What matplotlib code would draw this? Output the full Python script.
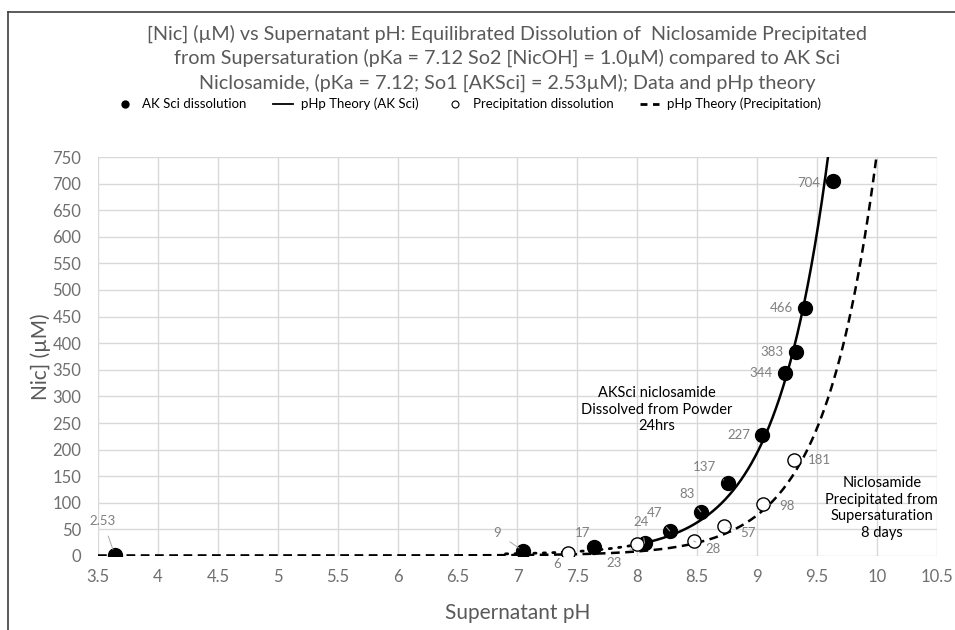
import numpy as np
import matplotlib
matplotlib.use('Agg')
import matplotlib.pyplot as plt
from matplotlib.lines import Line2D

# --- data ---
ak_ph = [3.64, 7.05, 7.64, 8.06, 8.27, 8.53, 8.76, 9.04, 9.23, 9.32, 9.40, 9.63]
ak_nic = [2.53, 9, 17, 24, 47, 83, 137, 227, 344, 383, 466, 704]
ak_labels = ['2.53', '9', '17', '24', '47', '83', '137', '227', '344', '383', '466', '704']

pr_ph = [7.42, 8.00, 8.47, 8.72, 9.05, 9.31]
pr_nic = [6, 23, 28, 57, 98, 181]
pr_labels = ['6', '23', '28', '57', '98', '181']

# pHp theory parameters (from title)
pka = 7.12
so_ak = 2.53
so_pr = 1.0

# label offsets in pixels (dx, dy, leader line?)
ak_off = [(-12, 34, True), (-26, 18, True), (-12, 14, False), (-3, 21, True),
          (-15, 18, True), (-14, 18, True), (-24, 16, True), (-23, 0, False),
          (-24, 0, False), (-24, 0, False), (-24, 0, False), (-24, -2, False)]
pr_off = [(-11, -11, True), (-23, -19, True), (19, -8, True), (24, -7, True),
          (24, -2, True), (25, 0, False)]

plt.rcParams['font.family'] = ['Lato', 'DejaVu Sans']
gray = '#595959'

fig = plt.figure(figsize=(9.55, 6.3), dpi=100)
ax = fig.add_axes([98 / 955, 1 - 556 / 630, (937 - 98) / 955, (556 - 157) / 630])

# theory curves (pHp equation: S = So * (1 + 10^(pH - pKa)))
ph_lo = np.linspace(6.9, 8.1, 200)
ph_hi = np.linspace(8.1, 10.3, 600)
ax.plot(ph_lo, so_ak * (1 + 10 ** (ph_lo - pka)), color='black', lw=2.0,
        dashes=(0.8, 2.6), dash_capstyle='round', zorder=3)
ax.plot(ph_hi, so_ak * (1 + 10 ** (ph_hi - pka)), color='black', lw=1.8, zorder=3)
ph = np.linspace(3.5, 10.3, 800)
ax.plot(ph, so_pr * (1 + 10 ** (ph - pka)), color='black', lw=1.8,
        dashes=(3.5, 2.2), zorder=3)

ax.plot(ak_ph, ak_nic, 'o', ms=10, color='black', zorder=4)
ax.plot(pr_ph, pr_nic, 'o', ms=9.5, mfc='white', mec='black', mew=1.0, zorder=4)

lab_color = '#7f7f7f'
for x, y, t, (dx, dy, lead) in list(zip(ak_ph, ak_nic, ak_labels, ak_off)) + \
        list(zip(pr_ph, pr_nic, pr_labels, pr_off)):
    ap = dict(arrowstyle='-', color='#a6a6a6', lw=0.7, shrinkA=5, shrinkB=4) if lead else None
    ax.annotate(t, (x, y), xytext=(dx, dy), textcoords='offset pixels',
                ha='center', va='center', fontsize=9.5, color=lab_color,
                arrowprops=ap, zorder=5)

ax.text(8.16, 275, 'AKSci niclosamide\nDissolved from Powder\n24hrs',
        ha='center', va='center', fontsize=10.5, color='black', linespacing=1.25)
ax.text(10.04, 90, 'Niclosamide\nPrecipitated from\nSupersaturation\n8 days',
        ha='center', va='center', fontsize=10.5, color='black', linespacing=1.25)

ax.set_xlim(3.5, 10.5)
ax.set_ylim(0, 750)
ax.set_xticks(np.arange(3.5, 10.51, 0.5))
ax.set_xticklabels(['3.5', '4', '4.5', '5', '5.5', '6', '6.5', '7', '7.5', '8',
                    '8.5', '9', '9.5', '10', '10.5'])
ax.set_yticks(np.arange(0, 751, 50))
ax.grid(True, color='#d9d9d9', lw=1)
ax.set_axisbelow(True)
for s in ax.spines.values():
    s.set_visible(False)
ax.tick_params(length=0, labelsize=12, labelcolor='#6f6f6f')
ax.tick_params(axis='y', pad=12)
ax.tick_params(axis='x', pad=9)

ax.set_xlabel('Supernatant pH', fontsize=15, color=gray, labelpad=13)
ax.set_ylabel('Nic] (µM)', fontsize=15, color=gray, labelpad=1)

fig.text(0.531, 1 - 58 / 630,
         '[Nic] (µM) vs Supernatant pH: Equilibrated Dissolution of  Niclosamide Precipitated\n'
         'from Supersaturation (pKa = 7.12 So2 [NicOH] = 1.0µM) compared to AK Sci\n'
         'Niclosamide, (pKa = 7.12; So1 [AKSci] = 2.53µM); Data and pHp theory',
         ha='center', va='center', fontsize=14.2, color=gray, linespacing=1.4)

handles = [
    Line2D([], [], ls='none', marker='o', ms=5, color='black'),
    Line2D([], [], color='black', lw=1.3),
    Line2D([], [], ls='none', marker='o', ms=5, mfc='white', mec='black', mew=0.8),
    Line2D([], [], color='black', lw=2, dashes=(2.5, 2)),
]
labels = ['AK Sci dissolution', 'pHp Theory (AK Sci)', 'Precipitation dissolution',
          'pHp Theory (Precipitation)']
fig.legend(handles, labels, loc='center', bbox_to_anchor=(468 / 955, 1 - 104 / 630),
           ncol=4, frameon=False, handlelength=1.5, handletextpad=0.6,
           columnspacing=2.0, prop={'size': 9.5})

# outer frame (left and top edges)
fig.add_artist(Line2D([8 / 955, 8 / 955], [0, 1 - 12 / 630], color='#404040', lw=1.2))
fig.add_artist(Line2D([8 / 955, 1], [1 - 12 / 630, 1 - 12 / 630], color='#404040', lw=1.2))

fig.savefig('out.png', dpi=100)
